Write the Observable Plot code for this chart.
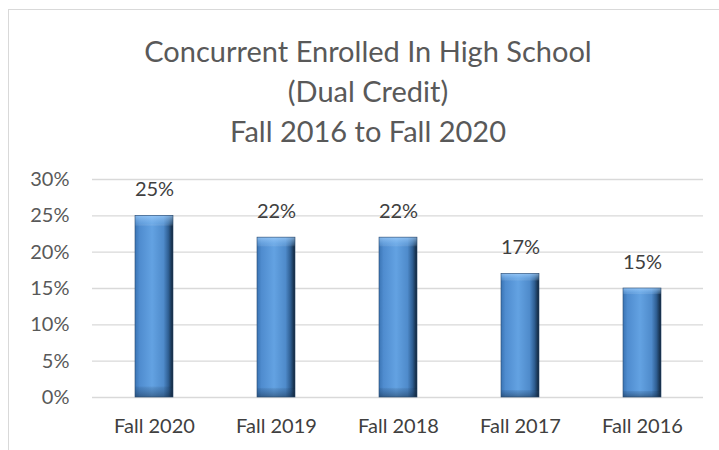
<!DOCTYPE html>
<html>
<head>
<meta charset="utf-8">
<script src="https://cdn.jsdelivr.net/npm/d3@7"></script>
<script src="https://cdn.jsdelivr.net/npm/@observablehq/plot@0.6"></script>
<style>
  html, body { margin: 0; padding: 0; background: #fff; }
  body { width: 719px; height: 450px; overflow: hidden; position: relative; font-family: Lato, "Open Sans", sans-serif; }
  #frame { position: absolute; left: 8px; top: 9px; width: 720px; height: 450px; border: 1px solid #d9d9d9; box-sizing: border-box; }
  #title { position: absolute; left: 0; top: 0; width: 719px; height: 165px; text-align: center; color: #595959; }
  #title div { position: absolute; left: 0; width: 736px; font-size: 29px; line-height: 1; }
  #chart { position: absolute; left: 0; top: 165px; }
  #chart svg { overflow: visible; }
</style>
</head>
<body>
<div id="frame"></div>
<div id="title">
  <div style="top:36px">Concurrent Enrolled In High School</div>
  <div style="top:76px">(Dual Credit)</div>
  <div style="top:116px">Fall 2016 to Fall 2020</div>
</div>
<div id="chart"></div>
<script>
const categories = ["Fall 2020", "Fall 2019", "Fall 2018", "Fall 2017", "Fall 2016"];
const values = [0.25, 0.22, 0.22, 0.17, 0.15];
const yTicks = [0, 0.05, 0.10, 0.15, 0.20, 0.25, 0.30];

const data = categories.map((c, i) => ({category: c, value: values[i]}));
const pct = d => Math.round(d * 100) + "%";

const plot = Plot.plot({
  width: 719,
  height: 285,
  marginLeft: 92,
  marginRight: 16,
  marginTop: 14,
  marginBottom: 53,
  style: {fontFamily: "Lato, 'Open Sans', sans-serif", fontSize: "20px", color: "#595959", background: "transparent"},
  x: {domain: categories, paddingInner: 0.69, paddingOuter: 0.345, label: null},
  y: {domain: [0, 0.30], label: null},
  marks: [
    Plot.gridY(yTicks, {stroke: "#d9d9d9", strokeOpacity: 1, strokeWidth: 1.3}),
    Plot.barY(data, {x: "category", y: "value", fill: "url(#barGradH)"}),
    Plot.barY(data, {x: "category", y: "value", fill: "url(#barGradV)", stroke: "#2a4a70", strokeWidth: 0.6}),
    Plot.text(data, {x: "category", y: "value", text: d => pct(d.value), dy: -26, fontSize: 20, fill: "#404040"}),
    Plot.axisX({tickSize: 0, tickPadding: 21, fontSize: 20, fill: "#404040"}),
    Plot.axisY(yTicks, {tickSize: 0, tickPadding: 23, tickFormat: pct, fontSize: 20, fill: "#595959"})
  ]
});

const ns = "http://www.w3.org/2000/svg";
const defs = document.createElementNS(ns, "defs");
defs.innerHTML = `
  <linearGradient id="barGradH" x1="0" y1="0" x2="1" y2="0">
    <stop offset="0" stop-color="#3a74b4"/>
    <stop offset="0.12" stop-color="#4f8ccf"/>
    <stop offset="0.45" stop-color="#63a2e2"/>
    <stop offset="0.75" stop-color="#4f8bcb"/>
    <stop offset="0.88" stop-color="#2f5f93"/>
    <stop offset="1" stop-color="#0f2236"/>
  </linearGradient>
  <linearGradient id="barGradV" x1="0" y1="0" x2="0" y2="1">
    <stop offset="0" stop-color="#a8d4ff" stop-opacity="0.7"/>
    <stop offset="0.045" stop-color="#8cc2f5" stop-opacity="0.3"/>
    <stop offset="0.06" stop-color="#ffffff" stop-opacity="0"/>
    <stop offset="0.94" stop-color="#000000" stop-opacity="0"/>
    <stop offset="0.955" stop-color="#1d3a5c" stop-opacity="0.2"/>
    <stop offset="1" stop-color="#0f2236" stop-opacity="0.45"/>
  </linearGradient>`;
plot.insertBefore(defs, plot.firstChild);
document.getElementById("chart").appendChild(plot);
</script>
</body>
</html>
